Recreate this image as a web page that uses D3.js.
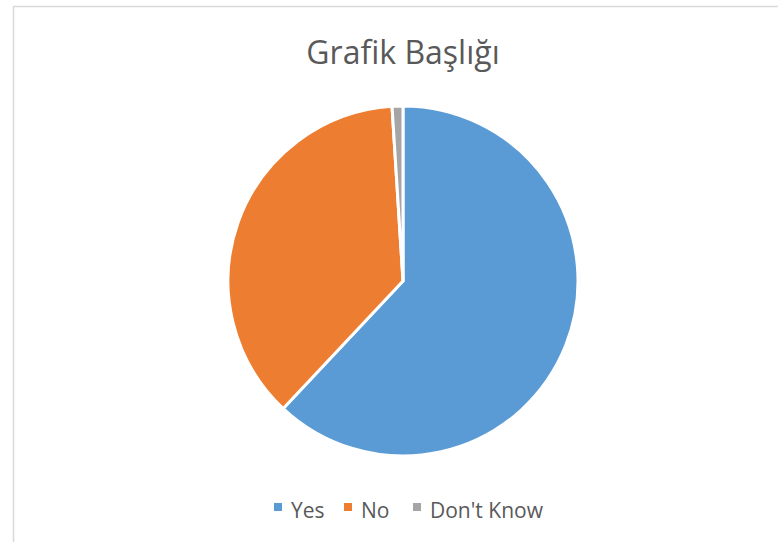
<!DOCTYPE html>
<html>
<head>
<meta charset="utf-8">
<script src="https://cdn.jsdelivr.net/npm/d3@7"></script>
<style>
body{margin:0;background:#fff}
svg{display:block}
text{font-family:"Open Sans",sans-serif;fill:#595959}
</style>
</head>
<body>
<script>
// chart values
var categories = ["Yes", "No", "Don't Know"];
var values = [62, 37, 1];
var colors = ["#5B9BD5", "#ED7D31", "#A5A5A5"];
var title = "Grafik Başlığı";

var W = 778, H = 542;
var cx = 403, cy = 281, r = 175;

var svg = d3.select("body").append("svg")
    .attr("width", W)
    .attr("height", H);

// chart area frame (runs off the right and bottom edge)
svg.append("rect")
    .attr("x", 13.5).attr("y", 6.5)
    .attr("width", W + 20).attr("height", H + 20)
    .attr("fill", "#fff")
    .attr("stroke", "#d9d9d9")
    .attr("stroke-width", 1.5);

svg.append("text")
    .attr("x", cx).attr("y", 64)
    .attr("text-anchor", "middle")
    .attr("font-size", 32)
    .text(title);

var pie = d3.pie().sort(null).value(function(d){ return d; });
var arc = d3.arc().innerRadius(0).outerRadius(r);

svg.append("g")
    .attr("transform", "translate(" + cx + "," + cy + ")")
    .selectAll("path")
    .data(pie(values))
    .enter().append("path")
    .attr("d", arc)
    .attr("fill", function(d, i){ return colors[i]; })
    .attr("stroke", "#fff")
    .attr("stroke-width", 3)
    .attr("stroke-linejoin", "round");

// legend
var legendX = [274, 344, 413];
var legend = svg.append("g").selectAll("g")
    .data(categories)
    .enter().append("g")
    .attr("transform", function(d, i){ return "translate(" + legendX[i] + ",503)"; });

legend.append("rect")
    .attr("width", 8).attr("height", 8)
    .attr("fill", function(d, i){ return colors[i]; });

legend.append("text")
    .attr("x", 17).attr("y", 14.5)
    .attr("font-size", 21)
    .text(function(d){ return d; });
</script>
</body>
</html>
